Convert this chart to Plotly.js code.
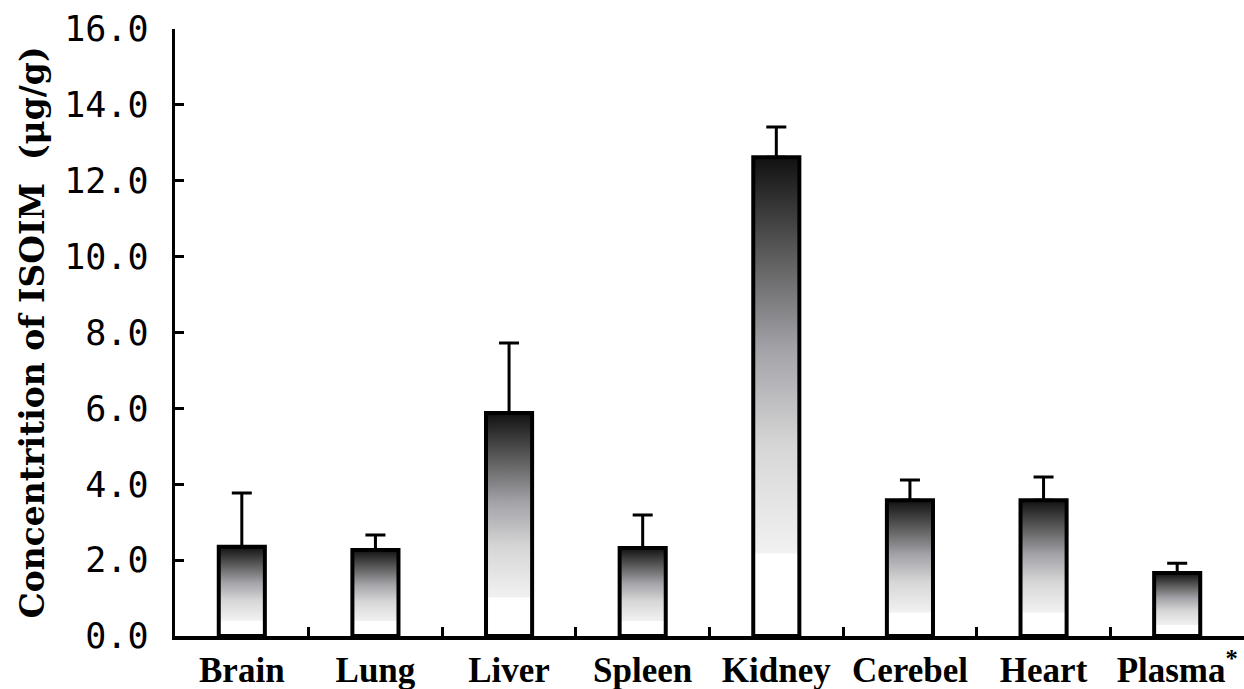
<!DOCTYPE html>
<html>
<head>
<meta charset="utf-8">
<script src="https://cdn.plot.ly/plotly-3.0.1.min.js"></script>
<style>html,body{margin:0;padding:0;background:#fff;}#chart{width:1244px;height:689px;}</style>
</head>
<body>
<div id="chart"></div>
<script>
const categories = ["Brain", "Lung", "Liver", "Spleen", "Kidney", "Cerebel", "Heart", "Plasma<sup>*</sup>"];
const means = [2.35, 2.27, 5.88, 2.32, 12.62, 3.58, 3.58, 1.66];
const sdUpper = [1.42, 0.39, 1.84, 0.87, 0.80, 0.53, 0.61, 0.26];
const yTickVals = [0, 2, 4, 6, 8, 10, 12, 14, 16];
const yTickText = ["0.0", "2.0", "4.0", "6.0", "8.0", "10.0", "12.0", "14.0", "16.0"];

const barWidth = 0.345;
const idx = categories.map((c, i) => i);
const gradScale = [[0, '#ffffff'], [0.17, '#ffffff'], [0.175, '#f1f1f1'], [0.4, '#d6d6d6'], [0.6, '#a2a2a8'], [0.8, '#5a5a5a'], [1, '#111111']];

const traces = [];
// gradient fills (base subplot)
idx.forEach(i => {
  const x0 = i - barWidth / 2, x1 = i + barWidth / 2;
  traces.push({
    type: 'scatter', mode: 'lines',
    x: [x0, x0, x1, x1, x0], y: [0, means[i], means[i], 0, 0],
    fill: 'toself',
    fillgradient: {type: 'vertical', colorscale: gradScale},
    line: {width: 0, color: 'rgba(0,0,0,0)'},
    hoverinfo: 'skip', showlegend: false,
    xaxis: 'x', yaxis: 'y'
  });
});
// bar outlines + error bars (overlay subplot)
traces.push({
  type: 'bar', x: idx, y: means, width: barWidth,
  marker: {color: 'rgba(0,0,0,0)', line: {color: '#000', width: 4}},
  error_y: {type: 'data', symmetric: false, array: sdUpper, arrayminus: means.map(() => 0), color: '#000', thickness: 3, width: 10},
  xaxis: 'x2', yaxis: 'y2', showlegend: false, hoverinfo: 'skip'
});

const layout = {
  width: 1244, height: 689,
  margin: {l: 175, r: 0, t: 29, b: 53},
  paper_bgcolor: '#fff', plot_bgcolor: 'rgba(0,0,0,0)',
  showlegend: false,
  xaxis: {
    range: [-0.5, 7.5], showgrid: false, zeroline: false,
    showline: true, linecolor: '#000', linewidth: 3.5,
    tickvals: idx, ticktext: categories, ticks: '',
    tickfont: {family: 'Liberation Serif', size: 35, color: '#000', weight: 'bold'},
    minor: {tickvals: [0.5, 1.5, 2.5, 3.5, 4.5, 5.5, 6.5], ticks: 'inside', ticklen: 9, tickwidth: 3, tickcolor: '#000', showgrid: false},
    fixedrange: true
  },
  yaxis: {
    range: [0, 16], showgrid: false, zeroline: false,
    showline: true, linecolor: '#000', linewidth: 3.5,
    tickvals: yTickVals, ticktext: yTickText,
    ticks: 'inside', ticklen: 9, tickwidth: 3, tickcolor: '#000',
    ticklabelstandoff: 16,
    tickfont: {family: 'DejaVu Sans Mono', size: 35, color: '#000'},
    title: {text: 'Concentrition of ISOIM  (μg/g)', font: {family: 'DejaVu Serif', size: 33, color: '#000', weight: 'bold'}, standoff: 10},
    fixedrange: true
  },
  xaxis2: {overlaying: 'x', range: [-0.5, 7.5], visible: false, fixedrange: true},
  yaxis2: {overlaying: 'y', range: [0, 16], visible: false, fixedrange: true}
};

Plotly.newPlot('chart', traces, layout, {displayModeBar: false, staticPlot: true});
</script>
</body>
</html>
